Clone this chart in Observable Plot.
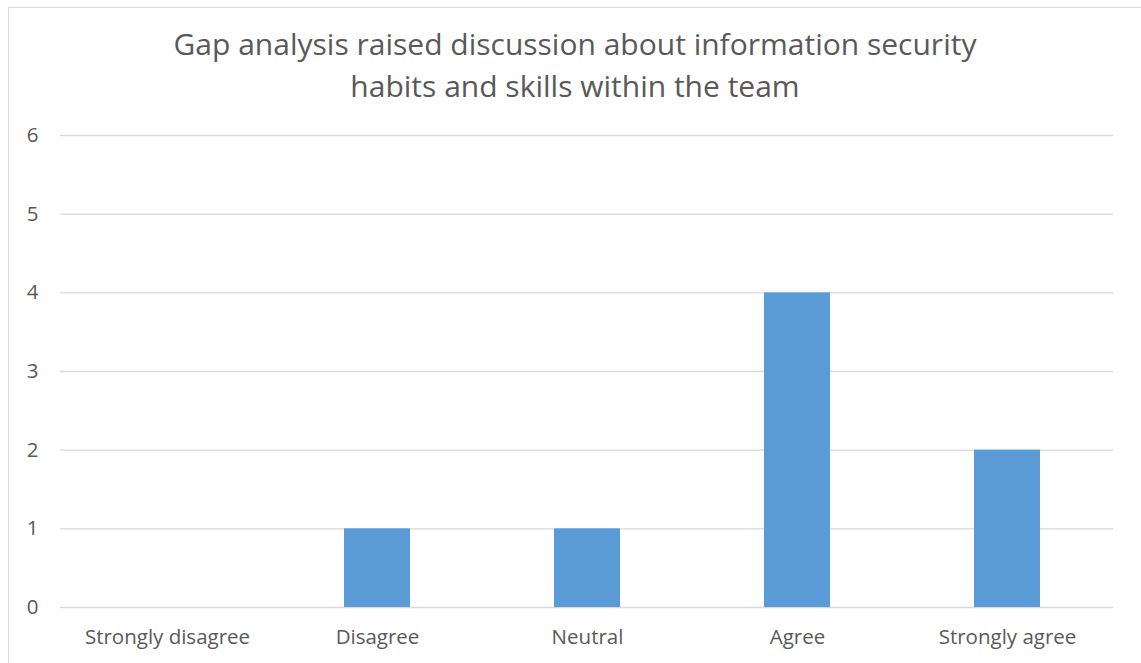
<!DOCTYPE html>
<html>
<head>
<meta charset="utf-8">
<script src="https://cdn.jsdelivr.net/npm/d3@7"></script>
<script src="https://cdn.jsdelivr.net/npm/@observablehq/plot@0.6"></script>
<style>
  html, body { margin: 0; padding: 0; background: #fff; }
  #chart { position: relative; width: 1141px; height: 663px; overflow: hidden; font-family: "Open Sans", sans-serif; }
  #frame { position: absolute; left: 8px; top: 7px; width: 1200px; height: 720px; border: 1px solid #d9d9d9; box-sizing: border-box; }
  #title { position: relative; height: 110px; box-sizing: border-box; padding-top: 23px; padding-left: 9px; text-align: center; color: #595959; font-size: 30px; }
  #title div { height: 41.5px; line-height: 41.5px; white-space: nowrap; }
  #plot { position: relative; }
</style>
</head>
<body>
<div id="chart">
  <div id="frame"></div>
  <div id="title">
    <div>Gap analysis raised discussion about information security</div>
    <div>habits and skills within the team</div>
  </div>
  <div id="plot"></div>
</div>
<script>
// Survey responses per answer option
const categories = ["Strongly disagree", "Disagree", "Neutral", "Agree", "Strongly agree"];
const counts = [0, 1, 1, 4, 2];
const yTicks = [0, 1, 2, 3, 4, 5, 6];

const rows = categories.map((c, i) => ({category: c, count: counts[i]}));

const chart = Plot.plot({
  width: 1141,
  height: 553,
  marginTop: 25,
  marginBottom: 56,
  marginLeft: 60,
  marginRight: 28,
  style: {fontFamily: "'Open Sans', sans-serif", fontSize: "20.5px", color: "#595959", background: "transparent"},
  x: {domain: categories, paddingInner: 0.687, paddingOuter: 0.3435, label: null},
  y: {domain: [0, 6], ticks: yTicks, label: null},
  marks: [
    Plot.gridY(yTicks, {stroke: "#d9d9d9", strokeOpacity: 1, strokeWidth: 1.4}),
    Plot.barY(rows, {x: "category", y: "count", fill: "#5b9bd5"}),
    Plot.axisY({ticks: yTicks, tickFormat: "d", tickSize: 0, tickPadding: 22, fontSize: 20.5, fill: "#595959"}),
    Plot.axisX({tickSize: 0, tickPadding: 22, fontSize: 20.5, fill: "#595959"})
  ]
});
document.getElementById("plot").appendChild(chart);
</script>
</body>
</html>
